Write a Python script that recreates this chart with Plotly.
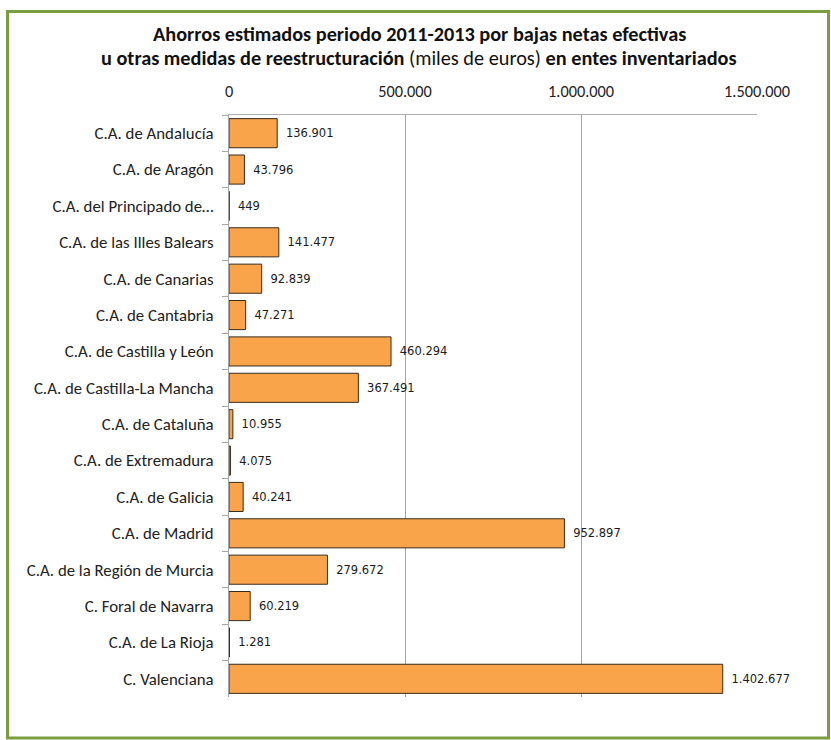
import plotly.graph_objects as go

categories = [
    "C.A. de Andalucía", "C.A. de Aragón", "C.A. del Principado de…",
    "C.A. de las Illes Balears", "C.A. de Canarias", "C.A. de Cantabria",
    "C.A. de Castilla y León", "C.A. de Castilla-La Mancha", "C.A. de Cataluña",
    "C.A. de Extremadura", "C.A. de Galicia", "C.A. de Madrid",
    "C.A. de la Región de Murcia", "C. Foral de Navarra", "C.A. de La Rioja",
    "C. Valenciana",
]
values = [136901, 43796, 449, 141477, 92839, 47271, 460294, 367491, 10955,
          4075, 40241, 952897, 279672, 60219, 1281, 1402677]
tick_vals = [0, 500000, 1000000, 1500000]
tick_text = ["0", "500.000", "1.000.000", "1.500.000"]

def fmt(v):
    return "{:,}".format(v).replace(",", ".")

W, H = 831, 740
L, R, T, B = 229, 757, 115, 697

def px(x):
    return (x - L) / (R - L)

def py(y):
    return (B - y) / (B - T)

FONT = "Carlito, Lato, sans-serif"

fig = go.Figure(go.Bar(
    y=categories, x=values, orientation="h",
    marker=dict(color="#F9A44A", line=dict(color="#3a2a1a", width=1)),
    text=["\u2002" + fmt(v) for v in values],
    textposition="outside", cliponaxis=False, constraintext="none",
    textfont=dict(family="DejaVu Sans", size=11.5, color="#1a1a1a"),
    width=0.8,
))

fig.update_layout(
    width=W, height=H,
    margin=dict(l=L, r=W - R, t=T, b=H - B, pad=0),
    paper_bgcolor="white", plot_bgcolor="white",
    showlegend=False,
    font=dict(family=FONT, color="#222222"),
    xaxis=dict(
        side="top", range=[0, 1500000], tickvals=tick_vals, ticktext=tick_text,
        showgrid=True, gridcolor="#a6a6a6", gridwidth=1, zeroline=False,
        showline=True, linecolor="#b0b0b0", linewidth=1, mirror=False,
        ticks="", tickfont=dict(family=FONT, size=16.3, color="#222222"),
        ticklabelstandoff=10,
    ),
    yaxis=dict(
        autorange="reversed", tickson="boundaries", ticks="outside", ticklen=6,
        tickcolor="#a6a6a6", showline=True, linecolor="#a6a6a6", linewidth=1,
        showgrid=False, tickfont=dict(family=FONT, size=16.8, color="#222222"),
        ticklabelstandoff=11,
    ),
    annotations=[
        dict(
            x=px(419), y=py(34), xref="paper", yref="paper",
            xanchor="center", yanchor="middle", showarrow=False,
            text="<b>Ahorros estimados periodo 2011-2013 por bajas netas efectivas</b>",
            font=dict(family=FONT, size=20.3, color="#111111"),
        ),
        dict(
            x=px(419), y=py(58), xref="paper", yref="paper",
            xanchor="center", yanchor="middle", showarrow=False,
            text="<b>u otras medidas de reestructuración</b> (miles de euros) "
                 "<b>en entes inventariados</b>",
            font=dict(family=FONT, size=20.3, color="#111111"),
        ),
    ],
    shapes=[dict(
        type="rect", xref="paper", yref="paper",
        x0=px(7.5), x1=px(828.5), y0=py(738), y1=py(11.5),
        line=dict(color="#7A9E3E", width=3), fillcolor="rgba(0,0,0,0)",
        layer="above",
    )],
)

fig.write_html("out.html", post_script="document.body.style.margin='0';",
               config={"displayModeBar": False})
